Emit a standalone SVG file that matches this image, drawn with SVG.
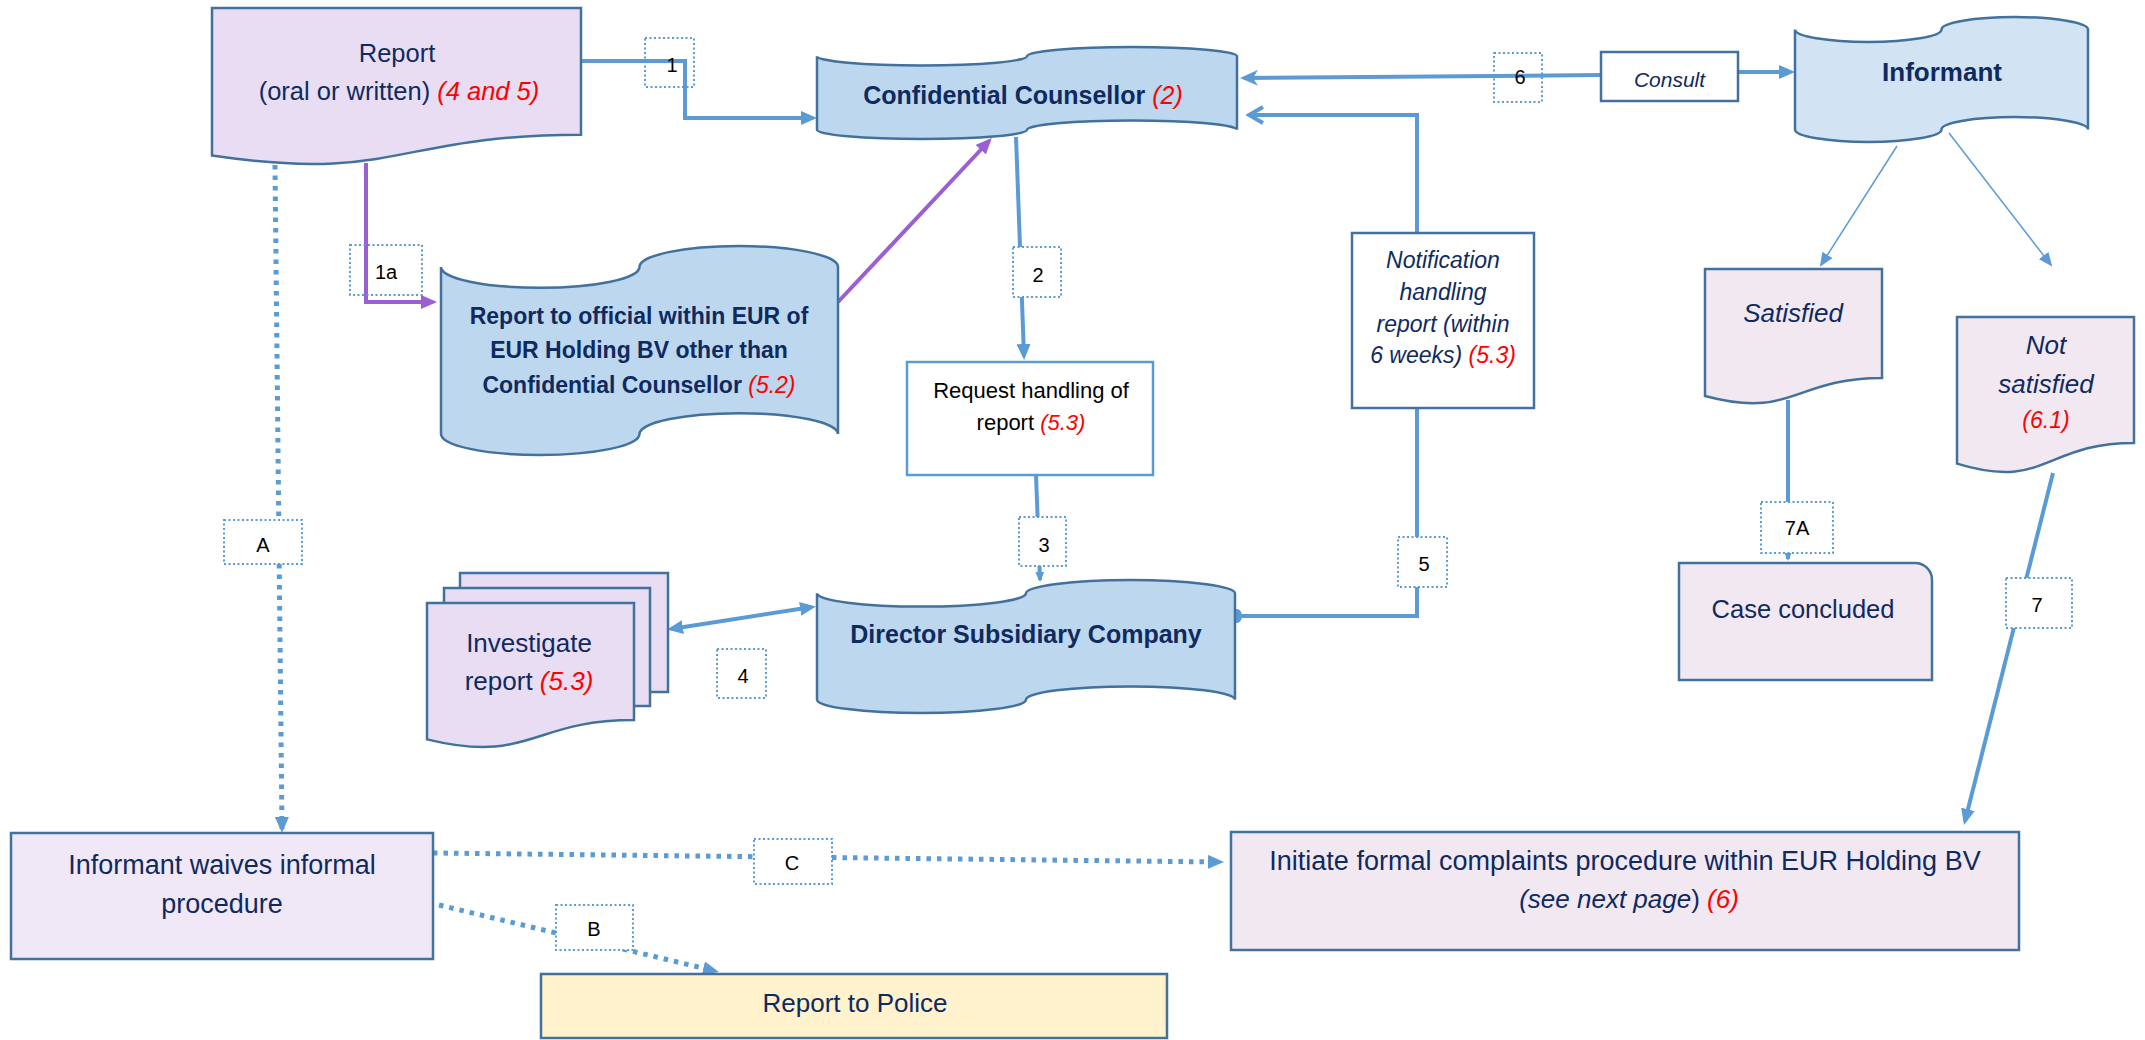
<svg xmlns="http://www.w3.org/2000/svg" width="2145" height="1040" viewBox="0 0 2145 1040">
<style>
.nd{stroke:#41719C;stroke-width:2.5}
.blue{fill:#BDD7EE}
.lblue{fill:#D2E3F3}
.lav{fill:#E8DDF3}
.pink{fill:#F2E8F2}
.t{font-family:"Liberation Sans",Arial,sans-serif;fill:#0F2A5E;text-anchor:middle}
.b{font-weight:bold}
.i{font-style:italic}
.red{fill:#FF0000;font-style:italic}
.cn{fill:none;stroke:#5B9BD5;stroke-width:4}
.thin{fill:none;stroke:#5B9BD5;stroke-width:1.5}
.pur{fill:none;stroke:#9B5FD1;stroke-width:4}
.dot{fill:none;stroke:#5B9BD5;stroke-width:5;stroke-dasharray:4.5 6}
.lb{fill:#fff;stroke:#5B9BD5;stroke-width:2;stroke-dasharray:2 2.5}
.lbn{fill:none;stroke:#5B9BD5;stroke-width:2;stroke-dasharray:2 2.5}
.lt{font-family:"Liberation Sans",Arial,sans-serif;fill:#000;font-size:20px;text-anchor:middle}
</style>
<defs>
<marker id="arrB" viewBox="0 0 16 14" refX="12" refY="7" markerWidth="16" markerHeight="14" markerUnits="userSpaceOnUse" orient="auto-start-reverse"><path d="M0,0 L16,7 L0,14 Z" fill="#5B9BD5"/></marker>
<marker id="arrP" viewBox="0 0 16 14" refX="12" refY="7" markerWidth="16" markerHeight="14" markerUnits="userSpaceOnUse" orient="auto"><path d="M0,0 L16,7 L0,14 Z" fill="#9B5FD1"/></marker>
<marker id="arrT" viewBox="0 0 14 12" refX="12" refY="6" markerWidth="14" markerHeight="12" markerUnits="userSpaceOnUse" orient="auto"><path d="M0,0 L14,6 L0,12 Z" fill="#5B9BD5"/></marker>
<marker id="arrS" viewBox="0 0 10 9" refX="8" refY="4.5" markerWidth="10" markerHeight="9" markerUnits="userSpaceOnUse" orient="auto"><path d="M0,0 L10,4.5 L0,9 Z" fill="#5B9BD5"/></marker>
<marker id="arrSt" viewBox="0 0 18 16" refX="14" refY="8" markerWidth="18" markerHeight="16" markerUnits="userSpaceOnUse" orient="auto"><path d="M0,0 L18,8 L0,16 L5,8 Z" fill="#5B9BD5"/></marker>
<marker id="arrV" viewBox="0 0 20 20" refX="16" refY="10" markerWidth="20" markerHeight="20" markerUnits="userSpaceOnUse" orient="auto"><path d="M3,2 L17,10 L3,18" fill="none" stroke="#5B9BD5" stroke-width="4"/></marker>
<marker id="oval" viewBox="0 0 12 16" refX="6" refY="8" markerWidth="12" markerHeight="16" markerUnits="userSpaceOnUse" orient="auto"><ellipse cx="6" cy="8" rx="5" ry="7" fill="#5B9BD5"/></marker>
</defs>

<g id="connectors">
<path class="cn" d="M581,61 H685 V118 H813" marker-end="url(#arrB)"/>
<path class="pur" d="M366,163 V302 H433" marker-end="url(#arrP)"/>
<path class="pur" d="M838,302 L989,141" marker-end="url(#arrP)"/>
<path class="cn" d="M1016,137 L1024,356" marker-end="url(#arrB)"/>
<path class="cn" d="M1036,475 L1040,580" stroke-width="3" marker-end="url(#arrS)"/>
<path class="cn" d="M671,629 L812,607" marker-start="url(#arrB)" marker-end="url(#arrB)"/>
<path class="cn" d="M1237,616 H1417 V115 H1250" marker-start="url(#oval)" marker-end="url(#arrV)"/>
<path class="cn" d="M1601,75 L1244,78" marker-end="url(#arrSt)"/>
<path class="cn" d="M1738,72 H1791" stroke-width="5" marker-end="url(#arrB)"/>
<path class="thin" d="M1897,146 L1821,265" marker-end="url(#arrT)"/>
<path class="thin" d="M1949,133 L2051,265" marker-end="url(#arrT)"/>
<path class="cn" d="M1788,400 V559" marker-end="url(#arrS)"/>
<path class="cn" d="M2053,473 L1965,821" marker-end="url(#arrB)"/>
<path class="dot" d="M275,165 L282,829" marker-end="url(#arrB)"/>
<path class="dot" d="M433,853 L1220,862" marker-end="url(#arrB)"/>
<path class="dot" d="M439,905 L715,971" marker-end="url(#arrB)"/>
</g>

<g id="report">
<path class="nd lav" d="M212,8 H581 V134.7 C396.5,134.7 396.5,182.9 212,155.6 Z"/>
<text class="t" x="397" y="62" font-size="25.5">Report</text>
<text class="t" x="399" y="100" font-size="25.5">(oral or written) <tspan class="red">(4 and 5)</tspan></text>
</g>

<g id="confidential-counsellor">
<path class="nd blue" d="M817,56.2 A105,9.2 0 0 0 1027,56.2 A105,9.2 0 0 1 1237,56.2 V129.8 A105,9.2 0 0 0 1027,129.8 A105,9.2 0 0 1 817,129.8 Z"/>
<text class="t" x="1023" y="104" font-size="25"><tspan class="b">Confidential Counsellor</tspan> <tspan class="red">(2)</tspan></text>
</g>

<g id="report-official">
<path class="nd blue" d="M441,266.9 A99.25,20.9 0 0 0 639.5,266.9 A99.25,20.9 0 0 1 838,266.9 V434.1 A99.25,20.9 0 0 0 639.5,434.1 A99.25,20.9 0 0 1 441,434.1 Z"/>
<text class="t b" x="639" y="324" font-size="23">Report to official within EUR of</text>
<text class="t b" x="639" y="358" font-size="23">EUR Holding BV other than</text>
<text class="t" x="639" y="393" font-size="23"><tspan class="b">Confidential Counsellor</tspan> <tspan class="red">(5.2)</tspan></text>
</g>

<g id="consult">
<rect class="nd" x="1601" y="52" width="137" height="49" fill="#fff"/>
<text class="t i" x="1669.5" y="87" font-size="21">Consult</text>
</g>

<g id="informant">
<path class="nd lblue" d="M1795,29.5 A73.25,12.5 0 0 0 1941.5,29.5 A73.25,12.5 0 0 1 2088,29.5 V129.5 A73.25,12.5 0 0 0 1941.5,129.5 A73.25,12.5 0 0 1 1795,129.5 Z"/>
<text class="t b" x="1942" y="81" font-size="26">Informant</text>
</g>

<g id="request-handling">
<rect x="907" y="362" width="246" height="113" fill="#fff" stroke="#5B9BD5" stroke-width="2.5"/>
<text class="t" x="1031" y="398" font-size="22" style="fill:#000">Request handling of</text>
<text class="t" x="1031" y="430" font-size="22" style="fill:#000">report <tspan class="red">(5.3)</tspan></text>
</g>

<g id="notification">
<rect class="nd" x="1352" y="233" width="182" height="175" fill="#fff"/>
<text class="t i" x="1443" y="268" font-size="23">Notification</text>
<text class="t i" x="1443" y="300" font-size="23">handling</text>
<text class="t i" x="1443" y="332" font-size="23">report (within</text>
<text class="t i" x="1443" y="363" font-size="23">6 weeks) <tspan class="red">(5.3)</tspan></text>
</g>

<g id="investigate">
<rect class="nd lav" x="460" y="573" width="208" height="119"/>
<rect class="nd lav" x="444" y="588" width="206" height="118"/>
<path class="nd lav" d="M427,603 H634 V720.1 C530.5,720.1 530.5,764.6 427,739.4 Z"/>
<text class="t" x="529" y="652" font-size="26">Investigate</text>
<text class="t" x="529" y="690" font-size="26">report <tspan class="red">(5.3)</tspan></text>
</g>

<g id="director">
<path class="nd blue" d="M817,593.3 A104.5,13.3 0 0 0 1026,593.3 A104.5,13.3 0 0 1 1235,593.3 V699.7 A104.5,13.3 0 0 0 1026,699.7 A104.5,13.3 0 0 1 817,699.7 Z"/>
<text class="t b" x="1026" y="643" font-size="25">Director Subsidiary Company</text>
</g>

<g id="satisfied">
<path class="nd pink" d="M1705,269 H1882 V378.1 C1793.5,378.1 1793.5,419.6 1705,396 Z"/>
<text class="t i" x="1793" y="322" font-size="26">Satisfied</text>
</g>

<g id="not-satisfied">
<path class="nd pink" d="M1957,317 H2134 V442.9 C2045.5,442.9 2045.5,490.8 1957,463.6 Z"/>
<text class="t i" x="2046" y="354" font-size="26">Not</text>
<text class="t i" x="2046" y="393" font-size="26">satisfied</text>
<text class="t red" x="2046" y="428" font-size="23">(6.1)</text>
</g>

<g id="case-concluded">
<path class="nd pink" d="M1679,563 H1915 A17,17 0 0 1 1932,580 V680 H1679 Z"/>
<text class="t" x="1803" y="618" font-size="25.5">Case concluded</text>
</g>

<g id="informant-waives">
<rect class="nd" x="11" y="833" width="422" height="126" fill="#F0E7F7"/>
<text class="t" x="222" y="874" font-size="27">Informant waives informal</text>
<text class="t" x="222" y="913" font-size="27">procedure</text>
</g>

<g id="initiate-formal">
<rect class="nd pink" x="1231" y="832" width="788" height="118"/>
<text class="t" x="1625" y="870" font-size="27">Initiate formal complaints procedure within EUR Holding BV</text>
<text class="t" x="1629" y="908" font-size="26"><tspan class="i">(see next page</tspan>) <tspan class="red">(6)</tspan></text>
</g>

<g id="report-police">
<rect class="nd" x="541" y="974" width="626" height="64" fill="#FFF2CC"/>
<text class="t" x="855" y="1012" font-size="26">Report to Police</text>
</g>

<g id="labels">
<g id="label-1"><rect class="lbn" x="645" y="38" width="49" height="49"/><text class="lt" x="672" y="72">1</text></g>
<g id="label-1a"><rect class="lbn" x="350" y="245" width="72" height="50"/><text class="lt" x="386" y="279" font-size="22">1a</text></g>
<g id="label-2"><rect class="lb" x="1013" y="247" width="48" height="50"/><text class="lt" x="1038" y="282">2</text></g>
<g id="label-3"><rect class="lb" x="1019" y="517" width="47" height="49"/><text class="lt" x="1044" y="552">3</text></g>
<g id="label-4"><rect class="lb" x="717" y="649" width="49" height="49"/><text class="lt" x="743" y="683">4</text></g>
<g id="label-5"><rect class="lb" x="1398" y="537" width="49" height="50"/><text class="lt" x="1424" y="571">5</text></g>
<g id="label-6"><rect class="lbn" x="1494" y="53" width="48" height="49"/><text class="lt" x="1520" y="84">6</text></g>
<g id="label-7A"><rect class="lb" x="1761" y="502" width="72" height="51"/><text class="lt" x="1797" y="535">7A</text></g>
<g id="label-7"><rect class="lb" x="2006" y="578" width="66" height="50"/><text class="lt" x="2037" y="612">7</text></g>
<g id="label-A"><rect class="lb" x="224" y="520" width="78" height="44"/><text class="lt" x="263" y="552">A</text></g>
<g id="label-B"><rect class="lb" x="556" y="905" width="77" height="45"/><text class="lt" x="594" y="936">B</text></g>
<g id="label-C"><rect class="lb" x="754" y="839" width="78" height="45"/><text class="lt" x="792" y="870">C</text></g>
</g>
</svg>
